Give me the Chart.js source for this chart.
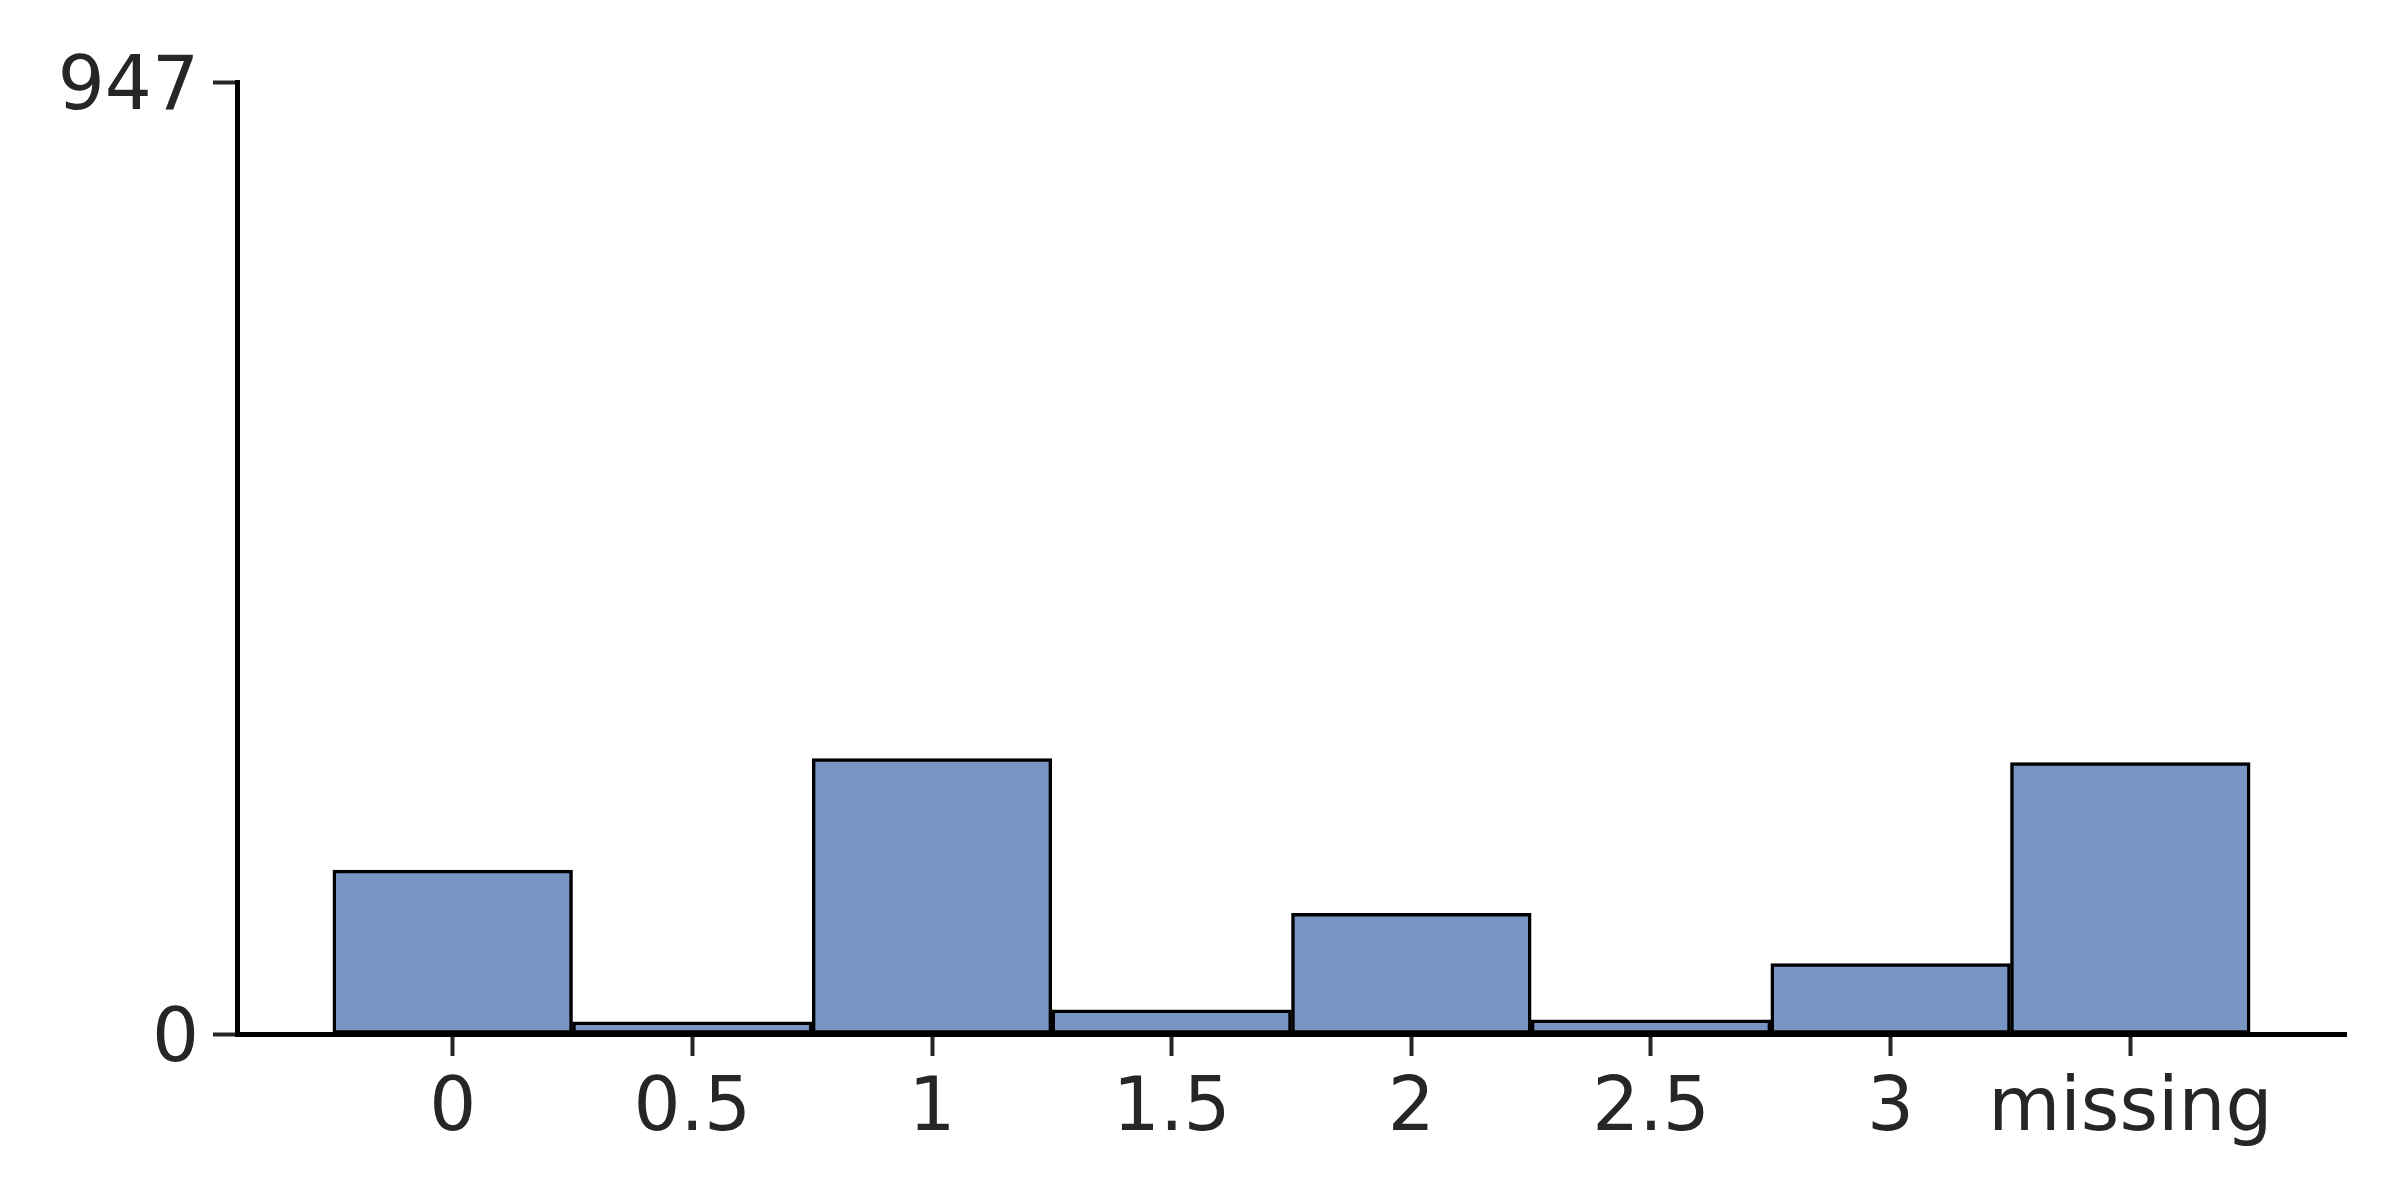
<!DOCTYPE html>
<html>
<head>
<meta charset="utf-8">
<script src="https://cdn.jsdelivr.net/npm/chart.js@4.4.1/dist/chart.umd.min.js"></script>
<style>
  html, body { margin: 0; padding: 0; background: #ffffff; }
  #wrap { width: 2400px; height: 1200px; }
</style>
</head>
<body>
<div id="wrap"><canvas id="chart" width="2400" height="1200"></canvas></div>
<script>
// histogram categories and counts
const categories = ["0", "0.5", "1", "1.5", "2", "2.5", "3", "missing"];
const counts = [163, 12, 274, 24, 120, 14, 70, 270];
const yTicks = [0, 947];

const points = counts.map((c, i) => ({ x: i, y: c }));

const tickFont = { family: "'DejaVu Sans', sans-serif", size: 74 };
const textColor = "#262626";

// nudge y labels down a little so the digits sit centred on their ticks
function shiftLabels(scale, dy) {
  if (scale._shifted) return;
  scale._shifted = true;
  const orig = scale.drawLabels;
  scale.drawLabels = function (area) {
    const ctx = this.ctx;
    ctx.save();
    ctx.translate(0, dy);
    orig.call(this, area);
    ctx.restore();
  };
}

new Chart(document.getElementById("chart"), {
  type: "bar",
  data: {
    datasets: [
      {
        data: points,
        backgroundColor: "#7995c4",
        borderColor: "#000000",
        borderWidth: 3.5,
        borderSkipped: false,
        barPercentage: 1,
        categoryPercentage: 1
      }
    ]
  },
  options: {
    responsive: false,
    animation: false,
    layout: { padding: { left: 0, right: 54, top: 82, bottom: 0 } },
    plugins: {
      legend: { display: false },
      tooltip: { enabled: false }
    },
    scales: {
      x: {
        type: "linear",
        min: -0.9,
        max: 7.9,
        offset: false,
        afterBuildTicks: (scale) => {
          scale.ticks = categories.map((_, i) => ({ value: i }));
        },
        afterFit: (scale) => { scale.height = 166; },
        ticks: {
          autoSkip: false,
          maxRotation: 0,
          color: textColor,
          font: tickFont,
          padding: 10,
          callback: (v) => categories[v]
        },
        grid: {
          display: true,
          offset: false,
          drawOnChartArea: false,
          tickLength: 22,
          tickWidth: 4,
          tickColor: textColor
        },
        border: { display: true, color: "#000000", width: 5 }
      },
      y: {
        min: 0,
        max: yTicks[yTicks.length - 1],
        afterBuildTicks: (scale) => {
          scale.ticks = yTicks.map((v) => ({ value: v }));
        },
        afterFit: (scale) => {
          scale.width = 237;
          shiftLabels(scale, 8);
        },
        ticks: {
          color: textColor,
          font: tickFont,
          padding: 14,
          callback: (v) => String(v)
        },
        grid: {
          display: true,
          drawOnChartArea: false,
          tickLength: 24,
          tickWidth: 4,
          tickColor: textColor
        },
        border: { display: true, color: "#000000", width: 5 }
      }
    }
  }
});
</script>
</body>
</html>
